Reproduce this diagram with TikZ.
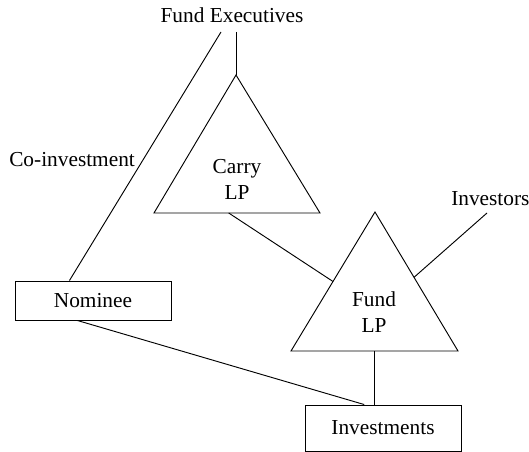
\documentclass[tikz,border=0pt]{standalone}
\usepackage{fontspec}
\setmainfont{Liberation Serif}
\usepackage{tikz}
\usetikzlibrary{calc}
\tikzset{
  lbl/.style={inner sep=0pt,font=\fontsize{16}{19.5}\selectfont},
  box/.style={lbl,draw,line width=.7pt,minimum width=117pt,minimum height=29.25pt},
  link/.style={line width=.7pt}
}

\begin{document}
\begin{tikzpicture}[x=0.75pt,y=-0.75pt]
\path[use as bounding box] (0,0) rectangle (529,452);
% boxes
\node[box] (nominee) at (93,300.5) {Nominee};
\node[box,minimum height=34.5pt] (investments) at (383,428) {Investments};
% triangles
\coordinate (carryTop) at (236,75);
\coordinate (carryLeft) at (154,213);
\coordinate (carryRight) at (320,213);
\draw[link] (carryTop) -- (carryLeft) -- (carryRight) -- cycle;
\node[lbl,align=center] (carry) at (237,179) {Carry\\LP};
\coordinate (fundTop) at (375,212);
\coordinate (fundLeft) at (291,351);
\coordinate (fundRight) at (458,351);
\draw[link] (fundTop) -- (fundLeft) -- (fundRight) -- cycle;
\node[lbl,align=center] (fund) at (374,312.5) {Fund\\LP};
% free labels
\node[lbl,anchor=base] (exec) at (232,23) {Fund Executives};
\node[lbl,anchor=base west] (coinv) at (9,167) {Co-investment};
\node[lbl,anchor=base west] (investors) at (451,206) {Investors};
\coordinate (execLeft) at (221,32);
\coordinate (execRight) at (236,32);
\coordinate (investorsEnd) at (487,213);
% connectors
\draw[link] (execLeft) -- ($(nominee.north west)!0.35!(nominee.north east)$);
\draw[link] (execRight) -- (carryTop);
\draw[link] ($(carryLeft)!0.45!(carryRight)$) -- ($(fundTop)!0.5!(fundLeft)$);
\draw[link] (investorsEnd) -- ($(fundTop)!0.47!(fundRight)$);
\draw[link] ($(fundLeft)!0.5!(fundRight)$) coordinate (fundBase) -- (fundBase |- investments.north);
\draw[link] ($(nominee.south west)!0.4!(nominee.south east)$) -- ($(investments.north west)!0.38!(investments.north east)$);
\end{tikzpicture}
\end{document}
